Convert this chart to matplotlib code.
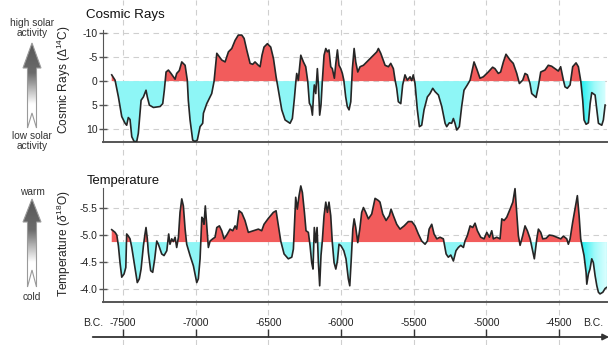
import numpy as np
import matplotlib.pyplot as plt
from matplotlib.colors import LinearSegmentedColormap
from matplotlib.patches import Polygon
from matplotlib.path import Path

plt.rcParams['font.family'] = ['Liberation Sans', 'DejaVu Sans']
plt.rcParams['mathtext.fontset'] = 'custom'
plt.rcParams['mathtext.rm'] = 'Liberation Sans'
plt.rcParams['mathtext.it'] = 'Liberation Sans:italic'

# --- data (years B.C.) ---
cr_years = np.array([
    -7578, -7555, -7532, -7509, -7486, -7475, -7464, -7452, -7440, -7424, -7406, -7395,
    -7383, -7376, -7360, -7342, -7333, -7319, -7291, -7245, -7227, -7216, -7204, -7188,
    -7170, -7142, -7131, -7113, -7096, -7073, -7058, -7051, -7039, -7021, -7005, -6989,
    -6970, -6952, -6947, -6924, -6890, -6874, -6855, -6821, -6798, -6775, -6752, -6729,
    -6707, -6683, -6667, -6649, -6626, -6608, -6592, -6569, -6557, -6544, -6530, -6507,
    -6484, -6465, -6447, -6431, -6408, -6385, -6351, -6335, -6321, -6310, -6305, -6294,
    -6277, -6259, -6243, -6229, -6218, -6206, -6197, -6188, -6184, -6174, -6163, -6156,
    -6147, -6138, -6129, -6117, -6105, -6094, -6083, -6071, -6060, -6046, -6036, -6025,
    -6014, -6002, -5991, -5981, -5968, -5957, -5945, -5933, -5922, -5910, -5899, -5885,
    -5869, -5846, -5823, -5800, -5754, -5743, -5727, -5697, -5674, -5658, -5640, -5628,
    -5617, -5606, -5589, -5576, -5560, -5544, -5525, -5514, -5503, -5491, -5475, -5461,
    -5445, -5429, -5406, -5388, -5369, -5353, -5330, -5307, -5284, -5273, -5255, -5239,
    -5227, -5216, -5204, -5186, -5170, -5154, -5131, -5112, -5085, -5067, -5044, -5021,
    -4987, -4957, -4941, -4918, -4902, -4883, -4865, -4837, -4815, -4791, -4773, -4750,
    -4734, -4718, -4700, -4688, -4658, -4643, -4626, -4597, -4574, -4551, -4528, -4505,
    -4489, -4470, -4459, -4443, -4424, -4406, -4383, -4367, -4350, -4337, -4328, -4314,
    -4298, -4286, -4275, -4252, -4240, -4229, -4206, -4195, -4183])
cr_vals = np.array([
    -1.3, -0.2, 3.3, 7.4, 8.8, 9.2, 7.6, 8.0, 11.6, 12.6, 12.6, 10.9,
    6.7, 4.0, 3.3, 1.9, 3.3, 5.0, 5.5, 5.3, 4.7, 1.9, -1.9, -2.3,
    -1.6, -0.4, -1.6, -2.2, -4.0, -3.3, -0.2, 4.0, 8.1, 12.3, 12.6, 12.3,
    9.5, 8.8, 6.7, 4.7, 2.6, 0.1, -5.8, -4.4, -4.0, -6.1, -6.8, -8.5,
    -9.6, -9.6, -8.9, -6.5, -3.7, -3.5, -4.0, -3.3, -3.0, -5.4, -7.1, -7.8,
    -7.1, -4.7, -0.9, 1.9, 6.0, 8.1, 8.8, 7.8, 3.6, -0.2, -1.6, -0.2,
    -5.4, -4.0, -3.0, 0.1, 4.6, 5.3, 7.1, 2.2, 0.8, 2.6, -2.6, 0.8,
    7.1, 5.0, 0.1, -5.4, -6.8, -6.1, -6.5, -3.0, -2.6, -0.6, -3.7, -6.5,
    -3.3, -2.6, -1.6, -0.2, 3.3, 5.3, 6.0, 4.3, -2.6, -6.8, -4.0, -1.9,
    -3.0, -3.3, -4.0, -4.7, -6.1, -6.8, -5.8, -3.3, -3.0, -3.7, -2.6, -0.2,
    1.5, 4.3, 4.7, 0.8, -1.3, -0.2, -0.9, -0.1, -1.3, 0.5, 6.0, 9.5,
    9.2, 6.0, 3.3, 2.6, 1.5, 2.2, 2.9, 5.3, 8.8, 9.5, 8.7, 8.8,
    7.8, 8.8, 10.2, 9.5, 5.3, 1.9, 0.8, -0.2, -4.0, -2.6, -0.6, -0.9,
    -1.9, -2.9, -2.6, -1.6, -1.9, -4.0, -5.6, -4.4, -3.7, -1.6, 0.5, -0.2,
    -1.6, -1.3, 0.5, 2.6, 3.4, 1.2, -1.9, -2.3, -3.3, -3.1, -2.6, -2.1,
    -3.0, -0.2, 1.2, 1.5, 0.8, -3.0, -3.8, -3.0, 0.1, 4.0, 8.1, 9.0,
    8.7, 4.7, 2.4, 2.9, 6.0, 8.8, 9.2, 8.1, 5.0])

t_years = np.array([
    -7578, -7555, -7543, -7532, -7521, -7509, -7493, -7481, -7475, -7463, -7452, -7440,
    -7417, -7402, -7388, -7376, -7360, -7349, -7342, -7333, -7326, -7310, -7296, -7282,
    -7268, -7257, -7234, -7218, -7199, -7186, -7177, -7165, -7154, -7142, -7131, -7119,
    -7108, -7096, -7085, -7073, -7062, -7039, -7016, -6993, -6982, -6970, -6958, -6951,
    -6943, -6934, -6924, -6913, -6901, -6883, -6867, -6855, -6837, -6821, -6805, -6787,
    -6764, -6745, -6729, -6718, -6702, -6683, -6661, -6638, -6604, -6569, -6546, -6530,
    -6500, -6466, -6447, -6431, -6415, -6392, -6363, -6339, -6328, -6321, -6312, -6301,
    -6289, -6277, -6266, -6252, -6241, -6225, -6213, -6202, -6193, -6184, -6174, -6165,
    -6156, -6147, -6138, -6129, -6117, -6105, -6094, -6083, -6071, -6060, -6048, -6036,
    -6025, -6014, -6000, -5981, -5966, -5950, -5940, -5931, -5919, -5910, -5899, -5885,
    -5871, -5858, -5846, -5830, -5812, -5789, -5766, -5743, -5732, -5713, -5690, -5668,
    -5656, -5640, -5617, -5594, -5566, -5537, -5513, -5491, -5468, -5445, -5422, -5406,
    -5394, -5376, -5360, -5341, -5319, -5296, -5277, -5262, -5245, -5227, -5209, -5193,
    -5176, -5158, -5147, -5131, -5112, -5094, -5078, -5062, -5039, -5016, -4997, -4979,
    -4963, -4952, -4929, -4906, -4894, -4878, -4860, -4837, -4818, -4803, -4791, -4780,
    -4768, -4750, -4734, -4718, -4699, -4684, -4670, -4653, -4642, -4626, -4612, -4589,
    -4567, -4543, -4516, -4488, -4470, -4447, -4436, -4424, -4406, -4390, -4374, -4362,
    -4351, -4344, -4328, -4314, -4309, -4298, -4287, -4275, -4264, -4252, -4240, -4229,
    -4218, -4199, -4183, -4172])
t_vals = np.array([
    -5.10, -5.05, -5.00, -4.80, -4.49, -4.22, -4.28, -4.40, -5.02, -4.98, -4.93, -4.77,
    -4.37, -4.12, -4.19, -4.37, -4.80, -5.02, -5.14, -4.93, -4.68, -4.34, -4.31, -4.56,
    -4.89, -4.83, -4.65, -4.62, -4.71, -5.02, -4.83, -4.93, -4.88, -4.96, -4.77, -4.96,
    -5.42, -5.67, -5.54, -5.11, -4.83, -4.62, -4.43, -4.12, -4.19, -4.56, -5.33, -5.30,
    -5.20, -5.54, -5.17, -4.77, -4.89, -4.93, -4.96, -5.14, -5.17, -5.08, -4.93, -5.00,
    -5.11, -5.08, -5.17, -5.11, -5.45, -5.41, -5.27, -5.05, -5.08, -5.11, -5.08, -5.20,
    -5.31, -5.42, -5.45, -5.17, -4.89, -4.65, -4.56, -4.59, -4.74, -5.17, -5.70, -5.48,
    -5.73, -5.91, -5.79, -5.42, -5.08, -5.05, -4.80, -4.49, -4.37, -5.14, -4.86, -5.14,
    -4.49, -4.06, -4.62, -4.89, -5.36, -5.61, -5.42, -5.61, -5.36, -4.86, -4.49, -4.37,
    -4.52, -4.83, -4.80, -4.71, -4.56, -4.19, -4.06, -4.49, -5.11, -5.30, -5.14, -4.86,
    -5.11, -5.42, -5.51, -5.42, -5.30, -5.39, -5.68, -5.64, -5.61, -5.39, -5.27, -5.36,
    -5.48, -5.36, -5.20, -5.11, -5.17, -5.25, -5.25, -5.17, -5.02, -4.89, -4.83, -4.89,
    -5.11, -5.20, -5.02, -4.93, -4.96, -4.93, -4.65, -4.59, -4.63, -4.52, -4.71, -4.77,
    -4.81, -4.77, -4.89, -4.99, -5.17, -5.14, -5.22, -5.08, -4.96, -4.93, -5.05, -4.96,
    -5.08, -4.93, -4.96, -4.93, -5.30, -5.27, -5.33, -5.48, -5.61, -5.86, -5.42, -4.99,
    -4.81, -4.99, -5.17, -5.08, -4.93, -4.74, -4.56, -4.93, -5.11, -5.05, -4.93, -4.94,
    -5.00, -4.99, -4.96, -4.93, -4.98, -4.93, -4.83, -4.93, -5.24, -5.48, -5.73, -5.36,
    -4.93, -4.83, -4.62, -4.31, -4.09, -4.28, -4.37, -4.56, -4.49, -4.25, -4.06, -3.94,
    -3.91, -3.94, -4.01, -4.03])

cr_thr = 0.0
t_thr = -4.87

x_ticks = [-7500, -7000, -6500, -6000, -5500, -5000, -4500]
x_labels = ['-7500', '-7000', '-6500', '-6000', '-5500', '-5000', '-4500']
cr_ticks = [-10, -5, 0, 5, 10]
cr_labels = ['-10', '-5', '0', '5', '10']
t_ticks = [-5.5, -5.0, -4.5, -4.0]
t_labels = ['-5.5', '-5.0', '-4.5', '-4.0']

RED = '#F25C5C'
CYAN = '#8EF6F6'
LINE = '#262626'
GRID = '#cfcfcf'
AX = '#555555'

W, H = 612, 345
fig = plt.figure(figsize=(W / 100, H / 100), dpi=100)

# figure-wide background: vertical grid + time arrow (x in years, y in pixels from top)
bg = fig.add_axes([0, 0, 1, 1], zorder=0)
bg.set_xlim(-8346, -4135)
bg.set_ylim(H, 0)
bg.axis('off')
for t in x_ticks:
    bg.axvline(t, color=GRID, lw=0.8, ls=(0, (5, 4)))
bg.annotate('', xy=(-4136, 337), xytext=(-7727, 337),
            arrowprops=dict(arrowstyle='-|>', color='#333333', lw=1.3, mutation_scale=9))
bg.vlines(x_ticks, 329, 337, color='#333333', lw=1.0)
for t, lab in zip(x_ticks, x_labels):
    bg.text(t, 323, lab, ha='center', va='center', fontsize=7.5, color='#222222')
bg.text(-7706, 323, 'B.C.', ha='center', va='center', fontsize=7.5, color='#222222')
bg.text(-4266, 323, 'B.C.', ha='center', va='center', fontsize=7.5, color='#222222')


def panel(top, bottom, ylim, years, vals, thr, ticks, labels, ylabel, spine_top, label_y):
    ax = fig.add_axes([103 / W, 1 - bottom / H, 504 / W, (bottom - top) / H], zorder=1)
    ax.patch.set_alpha(0)
    ax.set_xlim(-7638, -4170)
    ax.set_ylim(*ylim)
    ax.fill_between(years, vals, thr, where=vals < thr, interpolate=True,
                    color=RED, lw=0, zorder=2)
    ax.fill_between(years, vals, thr, where=vals > thr, interpolate=True,
                    color=CYAN, lw=0, zorder=2)
    # brighter cyan fading out at the right end
    sel = years >= -4360
    coll = ax.fill_between(years[sel], vals[sel], thr, where=vals[sel] > thr,
                           interpolate=True, color='none', lw=0)
    clip = Path.make_compound_path(*coll.get_paths())
    coll.remove()
    cmap = LinearSegmentedColormap.from_list('fade', ['#22F0F2', '#9FFAFA', '#E2FFFF'])
    grad = np.linspace(0, 1, 64)[None, :]
    im = ax.imshow(grad, extent=(-4352, -4170, ylim[0], ylim[1]), cmap=cmap,
                   aspect='auto', zorder=2.5, interpolation='bilinear')
    im.set_clip_path(clip, transform=ax.transData)
    ax.set_xlim(-7638, -4170)
    ax.set_ylim(*ylim)

    ax.plot(years, vals, color=LINE, lw=1.2, zorder=3)

    ax.set_yticks(ticks)
    ax.set_yticklabels(labels)
    ax.set_xticks([])
    ax.grid(axis='y', color=GRID, lw=0.8, ls=(0, (5, 4)))
    ax.set_axisbelow(True)
    ax.tick_params(axis='y', direction='inout', length=6, width=1, colors=AX,
                   labelcolor='#222222', labelsize=7.5, pad=1)
    for s in ['top', 'right']:
        ax.spines[s].set_visible(False)
    ax.spines['left'].set_color(AX)
    ax.spines['left'].set_bounds(ylim[0], spine_top)
    ax.spines['bottom'].set_color(AX)
    ax.spines['bottom'].set_linewidth(1.4)
    ax.set_ylabel(ylabel, fontsize=8.6, color='#222222')
    ax.yaxis.set_label_coords(-0.06, label_y)
    return ax


ax1 = panel(25, 142, (12.7, -11.7), cr_years, cr_vals, cr_thr, cr_ticks, cr_labels,
            'Cosmic Rays ($\\Delta^{14}$C)', -10.6, 0.53)
ax2 = panel(180, 302, (-3.76, -6.02), t_years, t_vals, t_thr, t_ticks, t_labels,
            'Temperature ($\\delta^{18}$O)', -5.87, 0.475)

# overlay in pixel coordinates: titles and the gradient arrows on the left
ov = fig.add_axes([0, 0, 1, 1], zorder=2)
ov.patch.set_alpha(0)
ov.axis('off')

ov.text(86, 15, 'Cosmic Rays', ha='left', va='center', fontsize=9.6, color='#111111')
ov.text(87, 181, 'Temperature', ha='left', va='center', fontsize=9.4, color='#111111')

arrow_cmap = LinearSegmentedColormap.from_list(
    'arr', [(0, '#565656'), (0.35, '#6c6c6c'), (0.72, '#ffffff'), (1, '#ffffff')])


def gray_arrow(cx, tip, base, bottom, notch):
    pts = [(cx, tip), (cx + 9, base), (cx + 4.5, base), (cx + 4.5, bottom), (cx, notch),
           (cx - 4.5, bottom), (cx - 4.5, base), (cx - 9, base)]
    poly = Polygon(pts, closed=True, fc='none', ec='#9a9a9a', lw=0.8, zorder=4)
    ov.add_patch(poly)
    grad = np.linspace(0, 1, 128)[:, None]
    im = ov.imshow(grad, extent=(cx - 10, cx + 10, bottom, tip), origin='upper',
                   cmap=arrow_cmap, aspect='auto', zorder=3, interpolation='bilinear')
    im.set_clip_path(poly)


gray_arrow(32, 43, 68, 128, 113)
gray_arrow(32, 199, 222, 287, 270)

ov.text(32, 27.5, 'high solar\nactivity', ha='center', va='center', fontsize=7.3,
        linespacing=1.0, color='#333333')
ov.text(32, 141, 'low solar\nactivity', ha='center', va='center', fontsize=7.3,
        linespacing=1.0, color='#333333')
ov.text(32, 192, 'warm', ha='center', va='center', fontsize=7.3, color='#333333')
ov.text(32, 297, 'cold', ha='center', va='center', fontsize=7.3, color='#333333')

ov.set_xlim(0, W)
ov.set_ylim(H, 0)

fig.savefig('out.png', dpi=100)
